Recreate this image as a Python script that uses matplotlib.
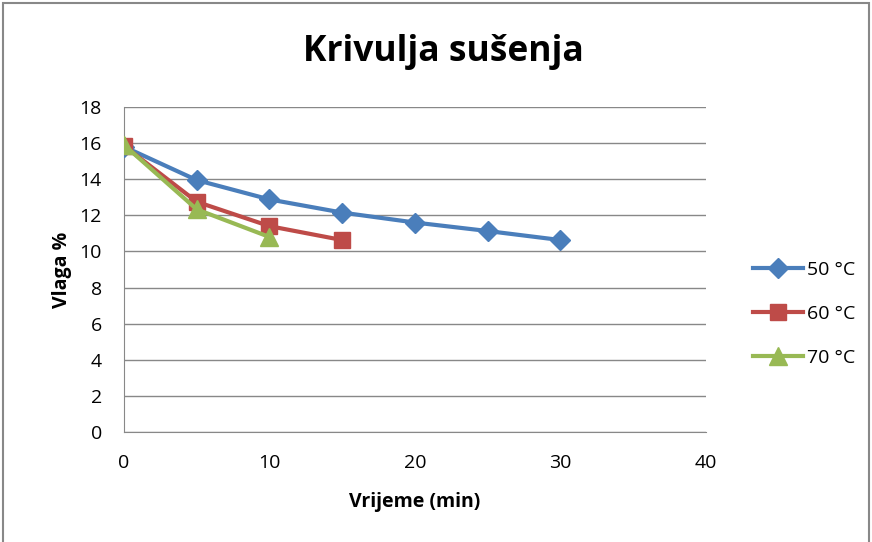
import matplotlib.pyplot as plt
from matplotlib.patches import Rectangle

plt.rcParams['font.family'] = ['Open Sans', 'DejaVu Sans']

# data
t50 = [0, 5, 10, 15, 20, 25, 30]
v50 = [15.8, 13.95, 12.88, 12.15, 11.6, 11.13, 10.63]
t60 = [0, 5, 10, 15]
v60 = [15.85, 12.75, 11.4, 10.63]
t70 = [0, 5, 10]
v70 = [15.9, 12.33, 10.8]

fig = plt.figure(figsize=(8.72, 5.42), dpi=100)
ax = fig.add_axes([0.1422, 0.2030, 0.6674, 0.5996])

ax.plot(t50, v50, color="#4a7ebb", lw=3, marker="D", ms=10, label="50 °C", zorder=3)
ax.plot(t60, v60, color="#be4b48", lw=3, marker="s", ms=12, label="60 °C", zorder=4)
ax.plot(t70, v70, color="#98b954", lw=3, marker="^", ms=13, label="70 °C", zorder=5)

ax.set_xlim(0, 40)
ax.set_ylim(0, 18)
ax.set_xticks(range(0, 41, 10))
ax.set_yticks(range(0, 19, 2))
ax.tick_params(labelsize=14, length=0)
ax.tick_params(axis="x", pad=16)
ax.tick_params(axis="y", pad=16)
ax.grid(axis="y", color="#888888", lw=1)
ax.set_axisbelow(True)
for s in ["top", "right"]:
    ax.spines[s].set_visible(False)
for s in ["left", "bottom"]:
    ax.spines[s].set_color("#888888")

fig.text(0.509, 0.904, "Krivulja sušenja", fontsize=25.5, fontweight="bold",
         ha="center", va="center")
ax.set_xlabel("Vrijeme (min)", fontsize=14, fontweight="bold", labelpad=14)
ax.set_ylabel("Vlaga %", fontsize=14, fontweight="bold", labelpad=5)

ax.legend(loc="center left", bbox_to_anchor=(1.05, 0.363), frameon=False,
          fontsize=14, handlelength=2.6, labelspacing=1.35, handletextpad=0.2)

fig.patches.append(Rectangle((0.004, -0.01), 0.992, 1.004, transform=fig.transFigure,
                             fill=False, edgecolor="#888888", lw=1.5))

plt.savefig("out.png")
